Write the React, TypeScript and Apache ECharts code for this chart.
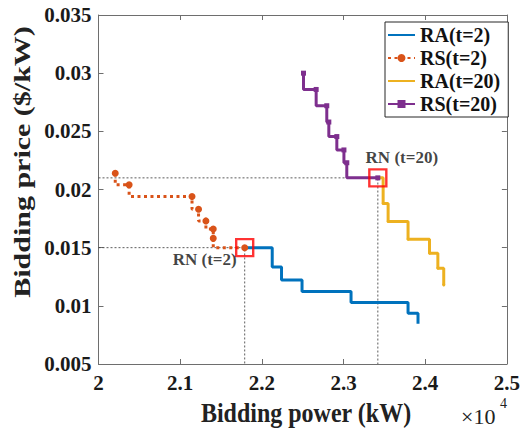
import React, { useEffect, useRef } from "react";
import * as echarts from "echarts";

// Bidding power (kW), Bidding price ($/kW)
const raT2: [number, number][] = [
  [21790, 0.015], [22127, 0.01333], [22241, 0.01223], [22492, 0.01123],
  [23092, 0.01028], [23790, 0.00937], [23912, 0.00845],
];
const rsT2: [number, number][] = [
  [20205, 0.0214], [20375, 0.0204], [21145, 0.0194], [21225, 0.0183],
  [21315, 0.0173], [21405, 0.0166], [21405, 0.0158], [21790, 0.015],
];
const raT20: [number, number][] = [
  [23420, 0.021], [23485, 0.0188], [23546, 0.01725], [23790, 0.01573],
  [24053, 0.01453], [24155, 0.01324], [24227, 0.0118],
];
const rsT20: [number, number][] = [
  [22510, 0.03], [22665, 0.0286], [22795, 0.0272], [22820, 0.0258],
  [22918, 0.02455], [23005, 0.0234], [23040, 0.0223], [23420, 0.021],
];
const rnPoints: [number, number][] = [[21790, 0.015], [23420, 0.021]];
const rnLabels = ["RN (t=2)", "RN (t=20)"];
const seriesNames = ["RA(t=2)", "RS(t=2)", "RA(t=20)", "RS(t=20)"];
const xMin = 20000, xMax = 25000, xStep = 1000;
const yMin = 0.005, yMax = 0.035, yStep = 0.005;

const SERIF = "'Liberation Serif', 'Times New Roman', serif";

export default function App() {
  const ref = useRef<HTMLDivElement>(null);
  useEffect(() => {
    document.body.style.margin = "0";
    const chart = echarts.init(ref.current!, null, { renderer: "svg" });
    const axisLineStyle = { color: "#6e6e6e", width: 1 };
    const tickLabel = { fontFamily: SERIF, fontWeight: "bold" as const, fontSize: 21, color: "#1a1a1a" };
    const refLine = (p: [number, number]) => ({
      type: "line",
      data: [[xMin, p[1]], [p[0], p[1]], [p[0], yMin]],
      symbol: "none",
      silent: true,
      lineStyle: { color: "#333", width: 0.8, type: [2, 2] },
      z: 1,
    });
    chart.setOption({
      animation: false,
      grid: { left: 98.5, right: 14, top: 15, bottom: 68 },
      xAxis: [
        {
          type: "value", min: xMin, max: xMax, interval: xStep,
          axisLine: { show: true, lineStyle: axisLineStyle },
          axisTick: { show: true, inside: true, length: 5, lineStyle: axisLineStyle },
          splitLine: { show: false },
          axisLabel: { ...tickLabel, margin: 8, formatter: (v: number) => String(parseFloat((v / 10000).toFixed(2))) },
        },
        {
          type: "value", position: "top", min: xMin, max: xMax, interval: xStep,
          axisLine: { show: true, lineStyle: axisLineStyle },
          axisTick: { show: true, inside: true, length: 5, lineStyle: axisLineStyle },
          splitLine: { show: false }, axisLabel: { show: false },
        },
      ],
      yAxis: [
        {
          type: "value", min: yMin, max: yMax, interval: yStep,
          axisLine: { show: true, lineStyle: axisLineStyle },
          axisTick: { show: true, inside: true, length: 5, lineStyle: axisLineStyle },
          splitLine: { show: false },
          axisLabel: { ...tickLabel, margin: 7, formatter: (v: number) => String(parseFloat(v.toFixed(4))) },
        },
        {
          type: "value", position: "right", min: yMin, max: yMax, interval: yStep,
          axisLine: { show: true, lineStyle: axisLineStyle },
          axisTick: { show: true, inside: true, length: 5, lineStyle: axisLineStyle },
          splitLine: { show: false }, axisLabel: { show: false },
        },
      ],
      legend: {
        data: [
          { name: seriesNames[0], itemStyle: { opacity: 0 } },
          { name: seriesNames[1] },
          { name: seriesNames[2], itemStyle: { opacity: 0 } },
          { name: seriesNames[3] },
        ],
        orient: "vertical",
        left: 385,
        top: 22,
        width: 123,
        backgroundColor: "#fff",
        borderColor: "#262626",
        borderWidth: 1,
        borderRadius: 0,
        padding: [3, 8, 3, 2],
        itemGap: 3,
        itemWidth: 27,
        itemHeight: 10,
        textStyle: { fontFamily: SERIF, fontWeight: "bold", fontSize: 20, color: "#111", lineHeight: 20 },
      },
      series: [
        refLine(rnPoints[0]),
        refLine(rnPoints[1]),
        {
          name: seriesNames[0], type: "line", step: "end", data: raT2,
          symbol: "none", color: "#0072BD",
          lineStyle: { color: "#0072BD", width: 3 }, z: 3,
        },
        {
          name: seriesNames[1], type: "line", step: "start", data: rsT2,
          symbol: "circle", symbolSize: 7, color: "#D95319",
          itemStyle: { color: "#D95319" },
          lineStyle: { color: "#D95319", width: 3, type: [3, 3.5] }, z: 4,
        },
        {
          name: seriesNames[2], type: "line", step: "end", data: raT20,
          symbol: "circle", symbolSize: 3, showSymbol: true, color: "#EDB120",
          itemStyle: { color: "#EDB120" },
          lineStyle: { color: "#EDB120", width: 3 }, z: 3,
        },
        {
          name: seriesNames[3], type: "line", step: "start", data: rsT20,
          symbol: "rect", symbolSize: 5, color: "#7E2F8E",
          itemStyle: { color: "#7E2F8E" },
          lineStyle: { color: "#7E2F8E", width: 3 }, z: 4,
        },
        {
          type: "scatter", silent: true, z: 6,
          symbol: "rect", symbolSize: 17,
          itemStyle: { color: "rgba(0,0,0,0)", borderColor: "#ff0000", borderWidth: 2.4 },
          data: [
            {
              value: rnPoints[0],
              label: { show: true, formatter: rnLabels[0], position: "inside", offset: [-40, 12] },
            },
            {
              value: rnPoints[1],
              label: { show: true, formatter: rnLabels[1], position: "inside", offset: [24, -20] },
            },
          ],
          label: { fontFamily: SERIF, fontWeight: "bold", fontSize: 17, color: "#111" },
        },
      ],
      graphic: [
        {
          type: "text", x: 306, y: 413,
          scaleY: 1.15,
          style: {
            text: "Bidding power (kW)", fontFamily: SERIF, fontWeight: "bold", fontSize: 24,
            fill: "#222", align: "center", verticalAlign: "middle",
          },
        },
        {
          type: "text", x: 22, y: 162, rotation: Math.PI / 2,
          scaleX: 1.25,
          style: {
            text: "Bidding price ($/kW)", fontFamily: SERIF, fontWeight: "bold", fontSize: 24,
            fill: "#222", align: "center", verticalAlign: "middle",
          },
        },
        {
          type: "text", x: 461, y: 416,
          style: { text: "×10", fontFamily: SERIF, fontSize: 22, fill: "#222", align: "left", verticalAlign: "middle" },
        },
        {
          type: "text", x: 500, y: 403,
          style: { text: "4", fontFamily: SERIF, fontSize: 14, fill: "#222", align: "left", verticalAlign: "middle" },
        },
      ],
    });
    return () => chart.dispose();
  }, []);
  return <div ref={ref} style={{ width: 523, height: 432 }} />;
}
